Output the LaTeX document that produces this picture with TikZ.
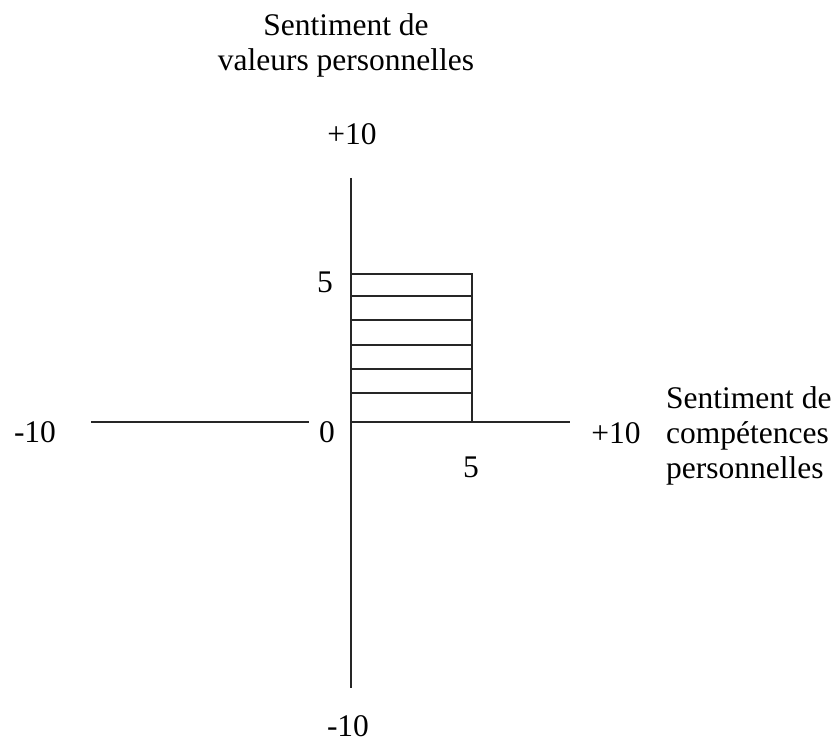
\documentclass[tikz,border=0pt]{standalone}
\usepackage{fontspec}
\setmainfont{Liberation Serif}
\usepackage{tikz}
\usetikzlibrary{positioning}

\begin{document}
\begin{tikzpicture}[
  x = 1pt, y = -1pt,
  every node/.style = {font=\fontsize{31.5}{35}\selectfont, inner sep=0pt},
  axis/.style = {line width=1.5pt, black!85},
  bar/.style  = {line width=1.2pt, black!85},
  lbl/.style  = {align=center},
  side/.style = {align=left, anchor=west}
]
\useasboundingbox (0,0) rectangle (838,743);

% axes
\coordinate (xl)  at (91,422);
\coordinate (xl0) at (309,422);
\coordinate (o)   at (351,422);
\coordinate (xr)  at (570,422);
\coordinate (yt)  at (351,178);
\coordinate (yb)  at (351,688);
\draw[axis] (xl) -- (xl0);
\draw[axis] (o)  -- (xr);
\draw[axis] (yt) -- (yb);

% zone
\coordinate (bt) at (472,274);
\coordinate (br) at (472,422);
\draw[bar] (o) rectangle (bt);
\foreach \y in {296,320,345,369,393}
  \draw[bar] (351,\y) -- (472,\y);
\draw[line width=2.6pt, black!85] (o) -- (br);

% labels
\node[lbl]  (ytitle) at (346,45)  {Sentiment de\\valeurs personnelles};
\node       (ymax)   at (352,134) {+10};
\node       (ymin)   at (348,726) {-10};
\node       (xmin)   at (35,432)  {-10};
\node       (xmax)   at (616,433) {+10};
\node       (zero)   at (327,432) {0};
\node       (five)   at (325,282) {5};
\node       (fivex)  at (471,467) {5};
\node[side] (xtitle) at (666,436) {Sentiment de\\compétences\\personnelles};
\end{tikzpicture}
\end{document}
